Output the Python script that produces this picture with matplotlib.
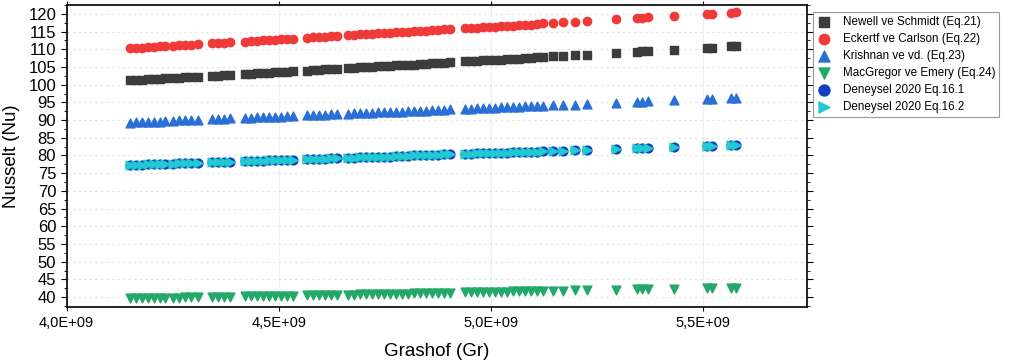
import numpy as np
import matplotlib
matplotlib.use("Agg")
import matplotlib.pyplot as plt
from matplotlib.ticker import MultipleLocator, FuncFormatter

plt.rcParams['font.family'] = ['Liberation Sans', 'DejaVu Sans']

# Grashof numbers (x 1E9)
gr = [4.149, 4.163, 4.177, 4.191, 4.205, 4.219, 4.233, 4.250, 4.264, 4.278,
      4.292, 4.309, 4.342, 4.356, 4.370, 4.384, 4.420, 4.434, 4.448, 4.462,
      4.476, 4.491, 4.505, 4.519, 4.533, 4.566, 4.580, 4.594, 4.608, 4.623,
      4.637, 4.663, 4.677, 4.691, 4.705, 4.719, 4.733, 4.748, 4.762, 4.776,
      4.790, 4.804, 4.818, 4.833, 4.847, 4.861, 4.875, 4.889, 4.903, 4.939,
      4.953, 4.967, 4.981, 4.995, 5.009, 5.024, 5.038, 5.052, 5.066, 5.080,
      5.094, 5.108, 5.123, 5.146, 5.170, 5.198, 5.226, 5.295, 5.344, 5.356,
      5.370, 5.432, 5.509, 5.521, 5.566, 5.578]

nu_newell = [101.2, 101.3, 101.4, 101.5, 101.6, 101.7, 101.8, 101.9, 102.0, 102.1,
             102.2, 102.3, 102.5, 102.6, 102.7, 102.8, 103.0, 103.1, 103.2, 103.3,
             103.4, 103.5, 103.6, 103.7, 103.8, 104.0, 104.1, 104.2, 104.3, 104.4,
             104.5, 104.7, 104.8, 104.9, 105.0, 105.1, 105.2, 105.3, 105.4, 105.5,
             105.6, 105.6, 105.7, 105.8, 105.9, 106.0, 106.1, 106.2, 106.3, 106.6,
             106.7, 106.8, 106.9, 106.9, 107.0, 107.1, 107.2, 107.3, 107.4, 107.5,
             107.6, 107.7, 107.8, 108.0, 108.1, 108.3, 108.5, 109.0, 109.3, 109.4,
             109.5, 109.9, 110.4, 110.5, 110.8, 110.9]

nu_eckert = [110.3, 110.4, 110.5, 110.6, 110.7, 110.8, 110.9, 111.0, 111.1, 111.2,
             111.3, 111.4, 111.7, 111.8, 111.9, 112.0, 112.2, 112.3, 112.4, 112.5,
             112.6, 112.7, 112.8, 112.9, 113.0, 113.3, 113.4, 113.5, 113.6, 113.7,
             113.8, 114.0, 114.1, 114.2, 114.3, 114.4, 114.5, 114.6, 114.7, 114.8,
             114.9, 115.0, 115.1, 115.2, 115.3, 115.4, 115.5, 115.6, 115.7, 115.9,
             116.0, 116.1, 116.2, 116.3, 116.4, 116.5, 116.6, 116.7, 116.8, 116.9,
             117.0, 117.1, 117.3, 117.4, 117.6, 117.8, 118.0, 118.5, 118.8, 118.9,
             119.0, 119.5, 120.0, 120.1, 120.4, 120.5]

nu_krishnan = [89.3, 89.4, 89.4, 89.5, 89.6, 89.6, 89.7, 89.8, 89.9, 89.9,
               90.0, 90.1, 90.2, 90.3, 90.4, 90.5, 90.6, 90.7, 90.8, 90.8,
               90.9, 91.0, 91.0, 91.1, 91.2, 91.3, 91.4, 91.5, 91.5, 91.6,
               91.7, 91.8, 91.9, 92.0, 92.0, 92.1, 92.2, 92.2, 92.3, 92.4,
               92.4, 92.5, 92.6, 92.7, 92.7, 92.8, 92.9, 92.9, 93.0, 93.2,
               93.2, 93.3, 93.4, 93.4, 93.5, 93.6, 93.7, 93.7, 93.8, 93.9,
               93.9, 94.0, 94.1, 94.2, 94.3, 94.4, 94.6, 94.9, 95.2, 95.2,
               95.3, 95.6, 96.0, 96.0, 96.2, 96.3]

nu_macgregor = [39.6, 39.6, 39.7, 39.7, 39.7, 39.8, 39.8, 39.8, 39.8, 39.9,
                39.9, 39.9, 40.0, 40.0, 40.1, 40.1, 40.2, 40.2, 40.2, 40.3,
                40.3, 40.3, 40.4, 40.4, 40.4, 40.5, 40.5, 40.6, 40.6, 40.6,
                40.7, 40.7, 40.7, 40.8, 40.8, 40.8, 40.9, 40.9, 40.9, 41.0,
                41.0, 41.0, 41.1, 41.1, 41.1, 41.1, 41.2, 41.2, 41.2, 41.3,
                41.3, 41.4, 41.4, 41.4, 41.5, 41.5, 41.5, 41.6, 41.6, 41.6,
                41.7, 41.7, 41.7, 41.8, 41.8, 41.9, 41.9, 42.1, 42.2, 42.2,
                42.2, 42.4, 42.6, 42.6, 42.7, 42.7]

nu_deney = [77.3, 77.4, 77.4, 77.5, 77.5, 77.6, 77.6, 77.7, 77.8, 77.8,
            77.9, 77.9, 78.1, 78.1, 78.2, 78.2, 78.4, 78.4, 78.5, 78.5,
            78.6, 78.7, 78.7, 78.8, 78.8, 79.0, 79.0, 79.1, 79.1, 79.2,
            79.2, 79.4, 79.4, 79.5, 79.5, 79.6, 79.6, 79.7, 79.7, 79.8,
            79.9, 79.9, 80.0, 80.0, 80.1, 80.1, 80.2, 80.3, 80.3, 80.5,
            80.5, 80.6, 80.6, 80.7, 80.7, 80.8, 80.8, 80.9, 81.0, 81.0,
            81.1, 81.1, 81.2, 81.3, 81.4, 81.5, 81.6, 81.9, 82.1, 82.1,
            82.2, 82.4, 82.7, 82.8, 82.9, 83.0]

x = np.array(gr) * 1e9

fig = plt.figure(figsize=(10.09, 3.62), dpi=100)
ax = fig.add_axes([0.066, 0.152, 0.734, 0.834])

ax.scatter(x, nu_newell, marker='s', s=30, c='#3c3c3c', label='Newell ve Schmidt (Eq.21)', zorder=3)
ax.scatter(x, nu_eckert, marker='o', s=36, c='#f03a3a', label='Eckertf ve Carlson (Eq.22)', zorder=3)
ax.scatter(x, nu_krishnan, marker='^', s=40, c='#2a6fd6', label='Krishnan ve vd. (Eq.23)', zorder=3)
ax.scatter(x, nu_macgregor, marker='v', s=40, c='#22a868', label='MacGregor ve Emery (Eq.24)', zorder=3)
ax.scatter(x, nu_deney, marker='o', s=40, c='#1040c0', label='Deneysel 2020 Eq.16.1', zorder=3)
ax.scatter(x, nu_deney, marker='>', s=40, c='#22c8d2', label='Deneysel 2020 Eq.16.2', zorder=4)

ax.set_xlim(4.0e9, 5.745e9)
ax.set_ylim(37.2, 122.5)
ax.xaxis.set_major_locator(MultipleLocator(0.5e9))
ax.xaxis.set_major_formatter(FuncFormatter(lambda v, p: ('%.1fE+09' % (v / 1e9)).replace('.', ',')))
ax.yaxis.set_major_locator(MultipleLocator(5))
ax.yaxis.set_minor_locator(MultipleLocator(2.5))
ax.tick_params(axis='y', which='both', left=True, right=True, labelsize=12)
ax.tick_params(axis='y', which='major', length=4)
ax.tick_params(axis='y', which='minor', length=2.5)
ax.tick_params(axis='x', labelsize=10.5, top=True, length=3)
ax.grid(True, axis='y', color='#e4e4e4', linestyle=(0, (2, 3)), linewidth=0.8, zorder=0)
ax.grid(True, axis='x', color='#ececec', linestyle='-', linewidth=0.6, zorder=0)
ax.set_axisbelow(True)
for sp in ax.spines.values():
    sp.set_linewidth(1.2)

ax.set_xlabel('Grashof (Gr)', fontsize=13.5, labelpad=9)
ax.set_ylabel('Nusselt (Nu)', fontsize=13.5, labelpad=6)

leg = ax.legend(loc='upper left', bbox_to_anchor=(1.008, 0.977), fontsize=8.4,
                frameon=True, fancybox=False, edgecolor='#808080', handletextpad=1.0,
                labelspacing=0.42, borderpad=0.35, handlelength=1.2, markerscale=1.25,
                borderaxespad=0)
leg.get_frame().set_linewidth(0.8)

fig.savefig('out.png', dpi=100)
